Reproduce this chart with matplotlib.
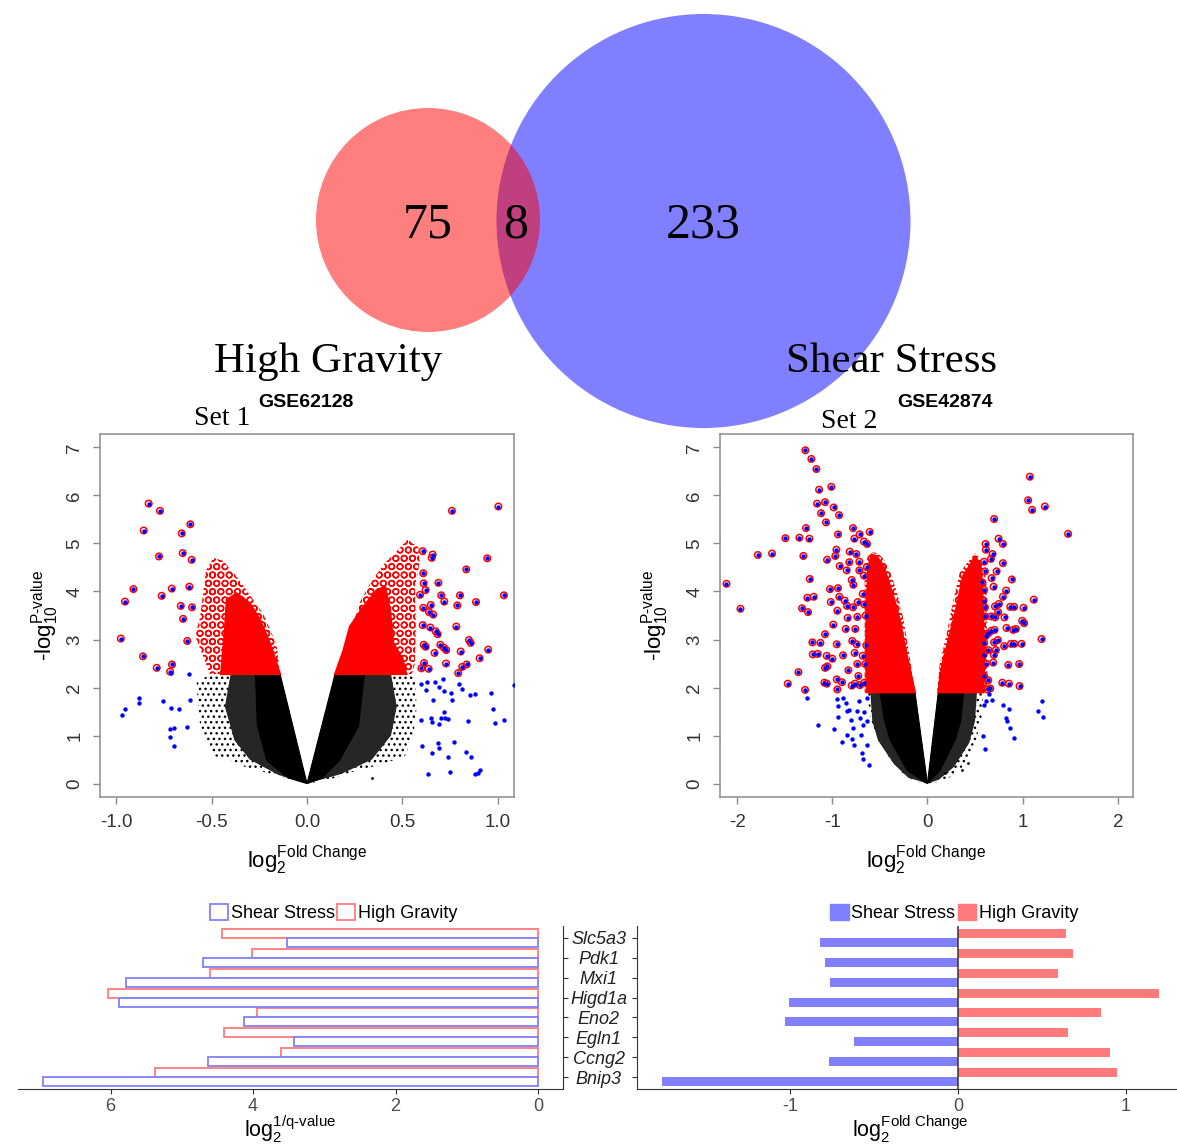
import matplotlib.pyplot as plt
import numpy as np
from matplotlib.patches import Circle, Polygon, Patch

plt.rcParams['font.family'] = ['Liberation Sans', 'DejaVu Sans']
plt.rcParams['mathtext.fontset'] = 'custom'
plt.rcParams['mathtext.rm'] = 'Liberation Sans'
plt.rcParams['mathtext.it'] = 'Liberation Sans:italic'
plt.rcParams['mathtext.bf'] = 'Liberation Sans:bold'
plt.rcParams['axes.unicode_minus'] = False
plt.rcParams['hatch.linewidth'] = 1.0

# ---- venn: only High Gravity, both, only Shear Stress
venn_names = ['High Gravity', 'Shear Stress']
venn_counts = [75, 8, 233]

# ---- genes in the overlap (bottom to top)
genes = ['Bnip3', 'Ccng2', 'Egln1', 'Eno2', 'Higd1a', 'Mxi1', 'Pdk1', 'Slc5a3']
q_shear = [6.95, 4.64, 3.43, 4.13, 5.88, 5.79, 4.71, 3.53]
q_gravity = [5.37, 3.61, 4.41, 3.94, 6.04, 4.60, 4.02, 4.44]
fc_shear = [-1.767, -0.772, -0.619, -1.034, -1.007, -0.767, -0.795, -0.822]
fc_gravity = [0.947, 0.904, 0.658, 0.852, 1.199, 0.594, 0.687, 0.646]

# ---- volcano Set 1 (GSE62128): envelopes of the dense clouds + single points
s1_black_outer = [
    [(-0.508, 2.28), (-0.578, 2.10), (-0.569, 1.58), (-0.560, 1.23), (-0.490, 0.57), (-0.403, 0.50),
     (-0.316, 0.33), (-0.176, 0.19), (0, 0), (-0.141, 2.28)],
    [(0.147, 2.28), (0.565, 2.28), (0.574, 1.58), (0.557, 1.02), (0.513, 0.57), (0.391, 0.40),
     (0.251, 0.26), (0.094, 0.05), (0, 0)]]
s1_black_mid = [
    [(-0.40, 2.28), (-0.43, 1.6), (-0.38, 0.9), (-0.30, 0.5), (-0.15, 0.18), (0, 0), (-0.141, 2.28)],
    [(0.147, 2.28), (0.44, 2.28), (0.47, 1.6), (0.44, 1.0), (0.34, 0.5), (0.18, 0.2), (0, 0)]]
s1_black_core = [
    [(-0.27, 2.28), (-0.26, 1.2), (-0.21, 0.48), (-0.10, 0.12), (0, 0), (-0.141, 2.28)],
    [(0.147, 2.28), (0.30, 2.28), (0.27, 1.2), (0.17, 0.48), (0.08, 0.12), (0, 0)]]
s1_red_fringe = [
    [(-0.508, 2.28), (-0.586, 3.08), (-0.560, 3.46), (-0.529, 4.44), (-0.490, 4.70), (-0.441, 4.64),
     (-0.386, 4.40), (-0.316, 4.02), (-0.229, 3.53), (-0.16, 2.9), (-0.141, 2.28)],
    [(0.155, 2.28), (0.225, 3.15), (0.28, 3.8), (0.339, 4.23), (0.408, 4.59), (0.527, 5.08),
     (0.583, 4.92), (0.59, 4.6), (0.565, 4.1), (0.57, 3.3), (0.565, 2.5), (0.55, 2.28)]]
s1_red_core = [
    [(-0.141, 2.28), (-0.194, 2.92), (-0.246, 3.41), (-0.298, 3.75), (-0.368, 3.96), (-0.42, 3.83),
     (-0.43, 3.2), (-0.45, 2.28)],
    [(0.147, 2.28), (0.190, 2.76), (0.225, 3.27), (0.295, 3.68), (0.365, 4.03), (0.41, 4.1),
     (0.435, 3.6), (0.452, 2.92), (0.50, 2.6), (0.52, 2.28)]]
s1_both = [
    (-0.829, 5.83), (-0.770, 5.68), (-0.855, 5.27), (-0.611, 5.40), (-0.656, 5.21), (-0.775, 4.73),
    (-0.651, 4.80), (-0.604, 4.66), (-0.909, 4.05), (-0.953, 3.79), (-0.761, 3.91), (-0.708, 4.06),
    (-0.616, 4.10), (-0.661, 3.70), (-0.602, 3.67), (-0.649, 3.43), (-0.627, 2.97), (-0.975, 3.02),
    (-0.859, 2.65), (-0.707, 2.48), (-0.787, 2.41), (-0.717, 2.33),
    (0.759, 5.68), (1.002, 5.77), (0.606, 4.84), (0.658, 4.77), (0.653, 4.70), (0.944, 4.69),
    (0.834, 4.46), (0.609, 4.38), (0.688, 4.18), (0.611, 4.17), (0.621, 4.03), (0.592, 3.93),
    (0.703, 3.92), (0.801, 3.92), (1.031, 3.92), (0.719, 3.79), (0.885, 3.78), (0.787, 3.71),
    (0.648, 3.72), (0.609, 3.66), (0.639, 3.57), (0.661, 3.52), (0.782, 3.27), (0.606, 3.30),
    (0.646, 3.25), (0.674, 3.17), (0.684, 3.11), (0.848, 2.99), (0.857, 2.93), (0.698, 2.89),
    (0.611, 2.89), (0.621, 2.85), (0.716, 2.83), (0.729, 2.78), (0.949, 2.79), (0.668, 2.72),
    (0.805, 2.75), (0.904, 2.61), (0.613, 2.51), (0.728, 2.50), (0.836, 2.48), (0.813, 2.43),
    (0.599, 2.40), (0.637, 2.39), (0.792, 2.30)]
s1_blue = [
    (-0.710, 2.30), (-0.618, 2.28), (-0.878, 1.78), (-0.878, 1.67), (-0.955, 1.56), (-0.969, 1.43),
    (-0.756, 1.72), (-0.712, 1.57), (-0.670, 1.55), (-0.613, 1.74), (-0.719, 1.13), (-0.698, 1.15),
    (-0.719, 0.97), (-0.696, 0.78), (-0.628, 1.17),
    (0.599, 2.08), (0.630, 2.11), (0.668, 2.12), (0.710, 2.17), (0.625, 1.94), (0.691, 2.01),
    (0.717, 1.92), (0.756, 1.89), (0.796, 2.08), (0.812, 1.97), (0.852, 1.84), (0.881, 1.86),
    (0.965, 1.89), (1.082, 2.05), (0.661, 1.73), (0.757, 1.75), (0.975, 1.56), (0.719, 1.49),
    (0.595, 1.33), (0.651, 1.36), (0.653, 1.29), (0.702, 1.37), (0.724, 1.36), (0.740, 1.34),
    (0.691, 1.24), (0.843, 1.30), (0.984, 1.26), (1.033, 1.32), (0.768, 0.86), (0.686, 0.84),
    (0.690, 0.74), (0.600, 0.79), (0.654, 0.63), (0.834, 0.66), (0.860, 0.56), (0.740, 0.56),
    (0.635, 0.19), (0.750, 0.24), (0.878, 0.19), (0.894, 0.22), (0.907, 0.29)]
s1_black = [(0.339, 0.12)]

# ---- volcano Set 2 (GSE42874)
s2_black_outer = [
    [(-0.638, 1.90), (-0.604, 1.44), (-0.551, 1.02), (-0.429, 0.61), (-0.289, 0.26), (-0.149, 0.05),
     (0, 0), (-0.131, 1.90)],
    [(0.114, 1.90), (0.586, 1.90), (0.569, 1.37), (0.499, 0.81), (0.359, 0.33), (0.184, 0.05), (0, 0)]]
s2_black_mid = [
    [(-0.60, 1.90), (-0.58, 1.3), (-0.52, 0.9), (-0.35, 0.4), (-0.20, 0.12), (0, 0), (-0.131, 1.90)],
    [(0.114, 1.90), (0.52, 1.90), (0.50, 1.3), (0.44, 0.85), (0.28, 0.35), (0.12, 0.08), (0, 0)]]
s2_black_core = [
    [(-0.50, 1.90), (-0.45, 1.3), (-0.39, 0.9), (-0.21, 0.27), (0, 0), (-0.131, 1.90)],
    [(0.114, 1.90), (0.38, 1.90), (0.35, 1.3), (0.29, 0.9), (0.13, 0.27), (0, 0)]]
s2_red_fringe = [
    [(-0.131, 1.90), (-0.2, 2.8), (-0.25, 3.4), (-0.31, 3.9), (-0.38, 4.35), (-0.45, 4.65),
     (-0.52, 4.8), (-0.6, 4.82), (-0.66, 4.6), (-0.66, 1.90)],
    [(0.10, 1.90), (0.13, 2.5), (0.2, 3.1), (0.27, 3.8), (0.34, 4.4), (0.44, 4.65), (0.5, 4.8),
     (0.57, 4.65), (0.62, 4.2), (0.63, 1.90)]]
s2_red_core = [
    [(-0.131, 1.90), (-0.236, 2.84), (-0.289, 3.39), (-0.341, 3.78), (-0.412, 4.23), (-0.464, 4.54),
     (-0.533, 4.73), (-0.586, 4.77), (-0.622, 4.51), (-0.638, 3.81), (-0.646, 2.76), (-0.638, 1.90)],
    [(0.114, 1.90), (0.149, 2.42), (0.219, 2.97), (0.306, 3.67), (0.376, 4.33), (0.446, 4.54),
     (0.499, 4.73), (0.551, 4.58), (0.575, 4.16), (0.586, 3.39), (0.596, 2.42), (0.586, 1.90)]]
s2_both = [
    (-1.283, 6.94), (-1.220, 6.76), (-1.167, 6.55), (-1.010, 6.18), (-1.139, 6.12), (-1.160, 5.83),
    (-1.076, 5.86), (-0.985, 5.75), (-1.118, 5.63), (-0.929, 5.59), (-1.066, 5.44), (-1.276, 5.32),
    (-1.493, 5.11), (-1.346, 5.12), (-1.241, 5.10), (-0.940, 5.19), (-0.782, 5.32), (-0.712, 5.19),
    (-0.607, 5.24), (-0.768, 5.10), (-0.667, 5.04), (-0.635, 4.99), (-1.783, 4.76), (-1.633, 4.79),
    (-1.304, 4.74), (-0.957, 4.87), (-1.055, 4.66), (-0.968, 4.74), (-0.817, 4.83), (-0.747, 4.78),
    (-0.716, 4.62), (-0.821, 4.61), (-0.922, 4.53), (-2.112, 4.16), (-1.237, 4.26), (-1.024, 4.05),
    (-0.940, 4.07), (-0.849, 4.44), (-0.796, 4.24), (-0.716, 4.44), (-0.779, 4.14), (-0.667, 4.33),
    (-0.638, 4.51), (-1.965, 3.64), (-1.262, 3.87), (-1.195, 3.89), (-1.318, 3.65), (-1.255, 3.57),
    (-1.016, 3.78), (-0.926, 3.89), (-0.870, 3.81), (-0.947, 3.60), (-0.845, 3.70), (-0.782, 3.67),
    (-0.733, 3.78), (-0.680, 3.95), (-0.663, 3.73), (-0.838, 3.45), (-0.737, 3.47), (-0.649, 3.50),
    (-0.989, 3.31), (-0.859, 3.22), (-0.758, 3.22), (-1.076, 3.11), (-1.209, 2.94), (-1.125, 2.93),
    (-0.953, 2.90), (-0.790, 2.97), (-0.744, 2.90), (-0.643, 2.88), (-1.205, 2.69), (-1.153, 2.70),
    (-1.058, 2.66), (-0.999, 2.60), (-0.887, 2.67), (-0.765, 2.72), (-0.680, 2.66), (-1.076, 2.41),
    (-1.052, 2.44), (-0.831, 2.36), (-0.737, 2.49), (-0.653, 2.49), (-1.356, 2.32), (-0.953, 2.17),
    (-0.898, 2.11), (-0.726, 2.24), (-0.761, 2.08), (-0.663, 2.10), (-1.468, 2.08), (-1.083, 2.10),
    (-1.058, 2.08), (-1.286, 1.95), (-0.947, 1.96), (-0.796, 2.04), (-0.709, 2.05),
    (1.076, 6.39), (1.058, 5.90), (1.100, 5.70), (1.234, 5.77), (0.701, 5.51), (1.478, 5.20),
    (0.747, 5.10), (0.793, 4.99), (0.611, 4.99), (0.614, 4.87), (0.684, 4.78), (0.667, 4.68),
    (0.596, 4.62), (0.793, 4.59), (0.727, 4.42), (0.604, 4.42), (0.674, 4.28), (0.887, 4.25),
    (0.575, 4.19), (0.695, 4.10), (0.827, 4.02), (0.596, 4.03), (0.793, 3.89), (1.118, 3.83),
    (0.590, 3.81), (0.751, 3.74), (0.709, 3.69), (0.604, 3.67), (0.870, 3.68), (0.911, 3.68),
    (1.010, 3.66), (0.743, 3.57), (0.607, 3.48), (0.670, 3.48), (0.712, 3.46), (0.810, 3.46),
    (0.996, 3.39), (1.016, 3.34), (0.670, 3.18), (0.705, 3.20), (0.831, 3.24), (0.901, 3.20),
    (0.929, 3.22), (0.614, 3.08), (0.639, 3.13), (1.199, 3.01), (0.740, 2.99), (0.701, 2.94),
    (0.596, 2.93), (0.806, 2.86), (0.877, 2.91), (0.911, 2.91), (0.989, 2.91), (0.639, 2.78),
    (0.719, 2.78), (0.698, 2.68), (0.590, 2.68), (0.691, 2.52), (0.614, 2.50), (0.849, 2.47),
    (0.964, 2.49), (0.596, 2.24), (0.639, 2.15), (0.786, 2.10), (0.856, 2.08), (0.968, 2.03),
    (0.632, 1.96), (0.660, 1.98)]
s2_blue = [
    (-1.262, 1.79), (-0.953, 1.77), (-0.890, 1.79), (-0.856, 1.67), (-0.716, 1.71), (-0.638, 1.79),
    (-0.940, 1.62), (-0.849, 1.51), (-0.828, 1.54), (-0.737, 1.51), (-0.663, 1.48), (-0.936, 1.39),
    (-0.800, 1.32), (-0.709, 1.37), (-0.635, 1.30), (-1.153, 1.21), (-0.982, 1.14), (-0.779, 1.16),
    (-0.674, 1.22), (-0.845, 1.02), (-0.695, 1.02), (-0.796, 0.92), (-0.898, 0.86), (-0.775, 0.81),
    (-0.638, 0.80), (-0.684, 0.63), (-0.677, 0.52), (-0.617, 0.38),
    (0.649, 1.87), (0.674, 1.73), (0.614, 1.72), (0.596, 1.64), (0.793, 1.64), (0.859, 1.55),
    (0.824, 1.36), (0.835, 1.30), (0.863, 1.16), (0.905, 0.95), (1.199, 1.72), (1.163, 1.51),
    (1.209, 1.39), (0.586, 0.99), (0.604, 0.73)]
s2_black = [(0.429, 0.43), (0.359, 0.28), (0.184, 0.22)]

RED = '#FF0000'
BLUE = '#0000FF'
BAR_BLUE = '#8080FF'
BAR_RED = '#FF7B7B'
GREY_AX = '#8c8c8c'

W, H = 1177, 1144
fig = plt.figure(figsize=(W / 100, H / 100), dpi=100)

# ---------------- venn (pixel coordinates over the whole figure)
axv = fig.add_axes([0, 0, 1, 1])
axv.set_xlim(0, W)
axv.set_ylim(H, 0)
axv.axis('off')
axv.add_patch(Circle((703.5, 221), 207, facecolor='blue', alpha=0.5, edgecolor='none'))
axv.add_patch(Circle((428, 220), 112, facecolor='red', alpha=0.5, edgecolor='none'))
serif = 'Liberation Serif'
for xx, c in zip([428, 516, 703], venn_counts):
    axv.text(xx, 238, str(c), ha='center', va='baseline', fontsize=36, family=serif)
axv.text(328, 372, venn_names[0], ha='center', va='baseline', fontsize=31, family=serif)
axv.text(891, 372, venn_names[1], ha='center', va='baseline', fontsize=31, family=serif)
axv.text(222, 425, 'Set 1', ha='center', va='baseline', fontsize=20, family=serif)
axv.text(306, 407, 'GSE62128', ha='center', va='baseline', fontsize=14, fontweight='bold')
axv.text(849, 428, 'Set 2', ha='center', va='baseline', fontsize=20, family=serif)
axv.text(945, 407, 'GSE42874', ha='center', va='baseline', fontsize=14, fontweight='bold')


def frac(x0, y0, x1, y1):
    return [x0 / W, 1 - y1 / H, (x1 - x0) / W, (y1 - y0) / H]


def volcano(ax, outer, mid, core, fringe, rcore, both, blue, black):
    for poly in outer:
        ax.add_patch(Polygon(poly, closed=True, fill=False, hatch='...', edgecolor='black', lw=0))
    for poly in mid:
        ax.add_patch(Polygon(poly, closed=True, facecolor='#262626', edgecolor='none', lw=0))
    for poly in core:
        ax.add_patch(Polygon(poly, closed=True, facecolor='black', edgecolor='black', lw=0.8))
    for poly in fringe:
        ax.add_patch(Polygon(poly, closed=True, fill=False, hatch='OO', edgecolor=RED, lw=0))
    for poly in rcore:
        ax.add_patch(Polygon(poly, closed=True, facecolor=RED, edgecolor=RED, lw=1.5))
    bx, by = zip(*black)
    ax.scatter(bx, by, s=4, c='black', lw=0)
    px, py = zip(*both)
    ax.scatter(px, py, s=22, facecolors='none', edgecolors=RED, linewidths=1.1, zorder=3)
    ax.scatter(px, py, s=10, c=BLUE, lw=0, zorder=4)
    ux, uy = zip(*blue)
    ax.scatter(ux, uy, s=10, c=BLUE, lw=0, zorder=4)
    for sp in ax.spines.values():
        sp.set_color(GREY_AX)
        sp.set_linewidth(1.1)
    ax.tick_params(length=5, width=1, color=GREY_AX, labelsize=13.5, labelcolor='#333333', pad=7)
    ax.set_yticks(range(0, 8))
    for lab in ax.get_yticklabels():
        lab.set_rotation(90)
        lab.set_va('center')
    ax.set_ylim(-0.28, 7.28)
    ax.text(0.5, -0.196, r'log$_{2}^{\text{Fold Change}}$', transform=ax.transAxes,
            ha='center', va='baseline', fontsize=16)


ax1 = fig.add_axes(frac(100, 434, 514, 797))
volcano(ax1, s1_black_outer, s1_black_mid, s1_black_core, s1_red_fringe, s1_red_core,
        s1_both, s1_blue, s1_black)
ax1.set_xlim(-1.084, 1.084)
ax1.set_xticks([-1.0, -0.5, 0.0, 0.5, 1.0])
ax1.set_xticklabels(['-1.0', '-0.5', '0.0', '0.5', '1.0'])
ax1.text(-0.133, 0.5, r'-log$_{10}^{\text{P-value}}$', transform=ax1.transAxes,
         rotation=90, ha='center', va='center', fontsize=16)

ax2 = fig.add_axes(frac(720, 434, 1133, 797))
volcano(ax2, s2_black_outer, s2_black_mid, s2_black_core, s2_red_fringe, s2_red_core,
        s2_both, s2_blue, s2_black)
ax2.set_xlim(-2.18, 2.16)
ax2.set_xticks([-2, -1, 0, 1, 2])
ax2.text(-0.157, 0.5, r'-log$_{10}^{\text{P-value}}$', transform=ax2.transAxes,
         rotation=90, ha='center', va='center', fontsize=16)

# ---------------- bar charts
yy = np.arange(1, len(genes) + 1)
bh = 0.45
axq = fig.add_axes(frac(18, 925.7, 563, 1089.3))
axq.barh(yy + bh / 2, q_gravity, height=bh, facecolor='white', edgecolor=BAR_RED, lw=1.3)
axq.barh(yy - bh / 2, q_shear, height=bh, facecolor='white', edgecolor=BAR_BLUE, lw=1.3)
axq.set_xlim(7.30, -0.35)
axq.set_ylim(0.4, 8.6)
axq.spines[['left', 'top']].set_visible(False)
axq.spines[['bottom', 'right']].set_color('#333333')
axq.yaxis.tick_right()
axq.set_yticks(yy)
axq.set_yticklabels([])
axq.set_xticks([0, 2, 4, 6])
axq.tick_params(length=3.5, color='#333333', labelsize=13, labelcolor='#4D4D4D', pad=3)
axq.text(0.5, -0.292, r'log$_{2}^{\text{1/q-value}}$', transform=axq.transAxes,
         ha='center', va='baseline', fontsize=15.5)
axq.legend(handles=[Patch(facecolor='white', edgecolor=BAR_BLUE, lw=1.3, label='Shear Stress'),
                    Patch(facecolor='white', edgecolor=BAR_RED, lw=1.3, label='High Gravity')],
           ncol=2, loc='center', bbox_to_anchor=(0.579, 1.078), frameon=False, fontsize=13,
           handlelength=1.0, handleheight=1.0, handletextpad=0.15, columnspacing=0.15,
           borderpad=0, borderaxespad=0)

axf = fig.add_axes(frac(637, 925.7, 1184, 1089.3))
axf.barh(yy + bh / 2, fc_gravity, height=bh, color=BAR_RED)
axf.barh(yy - bh / 2, fc_shear, height=bh, color=BAR_BLUE)
axf.axvline(0, color='#333333', lw=1.1)
axf.set_xlim(-1.915, 1.347)
axf.set_ylim(0.4, 8.6)
axf.spines[['right', 'top']].set_visible(False)
axf.spines[['bottom', 'left']].set_color('#333333')
axf.set_xticks([-1, 0, 1])
axf.set_yticks(yy)
axf.set_yticklabels(genes, style='italic', ha='center')
axf.tick_params(length=3.5, color='#333333', labelsize=13, labelcolor='#4D4D4D', pad=3)
axf.tick_params(axis='y', pad=24, labelcolor='#222222')
axf.text(0.5, -0.292, r'log$_{2}^{\text{Fold Change}}$', transform=axf.transAxes,
         ha='center', va='baseline', fontsize=15.5)
axf.legend(handles=[Patch(color=BAR_BLUE, label='Shear Stress'),
                    Patch(color=BAR_RED, label='High Gravity')],
           ncol=2, loc='center', bbox_to_anchor=(0.58, 1.078), frameon=False, fontsize=13,
           handlelength=1.0, handleheight=1.0, handletextpad=0.15, columnspacing=0.15,
           borderpad=0, borderaxespad=0)

fig.savefig('out.png', dpi=100)
